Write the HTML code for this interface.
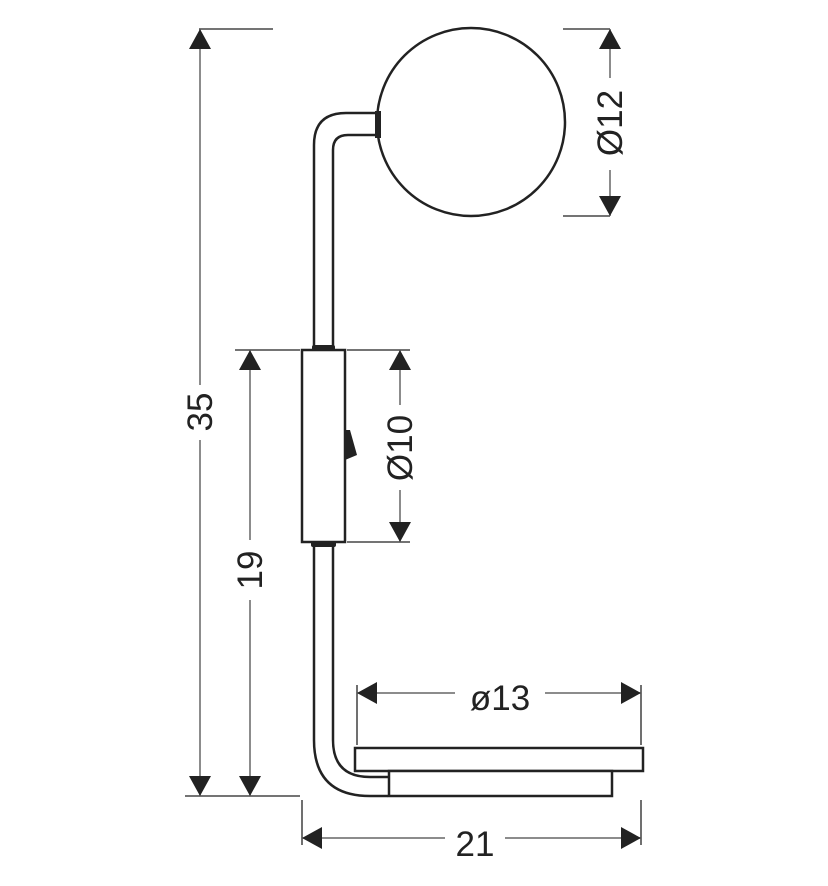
<!DOCTYPE html>
<html><head><meta charset="utf-8"><style>html,body{margin:0;padding:0;background:#fff}svg{display:block}text{font-family:"Liberation Sans",sans-serif;font-size:35px;fill:#222}</style></head><body>
<svg width="828" height="886" viewBox="0 0 828 886" xmlns="http://www.w3.org/2000/svg">
<defs>
<marker id="a" viewBox="0 0 20 22" refX="20" refY="11" markerWidth="20" markerHeight="22" markerUnits="userSpaceOnUse" orient="auto-start-reverse"><path d="M20,11 L0,0 L0,22 Z" fill="#222"/></marker>
</defs>
<g stroke="#222" stroke-width="1.3" fill="none">
<line x1="199" y1="29" x2="273" y2="29"/>
<line x1="185" y1="796" x2="300" y2="796"/>
<line x1="235" y1="350" x2="300" y2="350"/>
<line x1="347" y1="350" x2="410" y2="350"/>
<line x1="347" y1="542" x2="410" y2="542"/>
<line x1="563" y1="29" x2="610" y2="29"/>
<line x1="563" y1="216" x2="610" y2="216"/>
<line x1="357" y1="685" x2="357" y2="745"/>
<line x1="641" y1="685" x2="641" y2="745"/>
<line x1="302" y1="800" x2="302" y2="845"/>
<line x1="641" y1="800" x2="641" y2="845"/>
</g>
<g stroke="#666" stroke-width="1.5" fill="none">
<line x1="200" y1="29" x2="200" y2="385" marker-start="url(#a)"/>
<line x1="200" y1="440" x2="200" y2="796" marker-end="url(#a)"/>
<line x1="250" y1="350" x2="250" y2="540" marker-start="url(#a)"/>
<line x1="250" y1="600" x2="250" y2="796" marker-end="url(#a)"/>
<line x1="400" y1="350" x2="400" y2="405" marker-start="url(#a)"/>
<line x1="400" y1="490" x2="400" y2="542" marker-end="url(#a)"/>
<line x1="610" y1="29" x2="610" y2="78" marker-start="url(#a)"/>
<line x1="610" y1="170" x2="610" y2="216" marker-end="url(#a)"/>
<line x1="357" y1="693" x2="455" y2="693" marker-start="url(#a)"/>
<line x1="545" y1="693" x2="641" y2="693" marker-end="url(#a)"/>
<line x1="302" y1="838" x2="445" y2="838" marker-start="url(#a)"/>
<line x1="505" y1="838" x2="641" y2="838" marker-end="url(#a)"/>
</g>
<g stroke="#222" stroke-width="2.5" fill="none">
<circle cx="471" cy="122" r="94"/>
<path d="M314,346 L314,145 Q314,113 346,113 L377,113"/>
<path d="M333,346 L333,150 Q333,135 348,135 L377,135"/>
<rect x="302" y="350" width="43" height="192" fill="#fff"/>
<path d="M314,545 L314,740 Q314,796 370,796 L388,796"/>
<path d="M333,545 L333,740 Q333,777 370,777 L388,777"/>
<rect x="355" y="748" width="288" height="23" fill="#fff"/>
<rect x="389" y="771" width="223" height="25" fill="#fff"/>
</g>
<rect x="375" y="111" width="6" height="27" fill="#222"/>
<rect x="312" y="345" width="23" height="6" rx="2" fill="#222"/>
<rect x="311" y="541" width="25" height="6" rx="2" fill="#222"/>
<path d="M345,430 L350,430 L357,455 L345,460 Z" fill="#222"/>
<text transform="translate(212,412) rotate(-90)" text-anchor="middle">35</text>
<text transform="translate(262,570) rotate(-90)" text-anchor="middle">19</text>
<text transform="translate(412,448) rotate(-90)" text-anchor="middle">Ø10</text>
<text transform="translate(622,123) rotate(-90)" text-anchor="middle">Ø12</text>
<text x="500" y="710" text-anchor="middle">ø13</text>
<text x="475" y="856" text-anchor="middle">21</text>
</svg>
</body></html>
